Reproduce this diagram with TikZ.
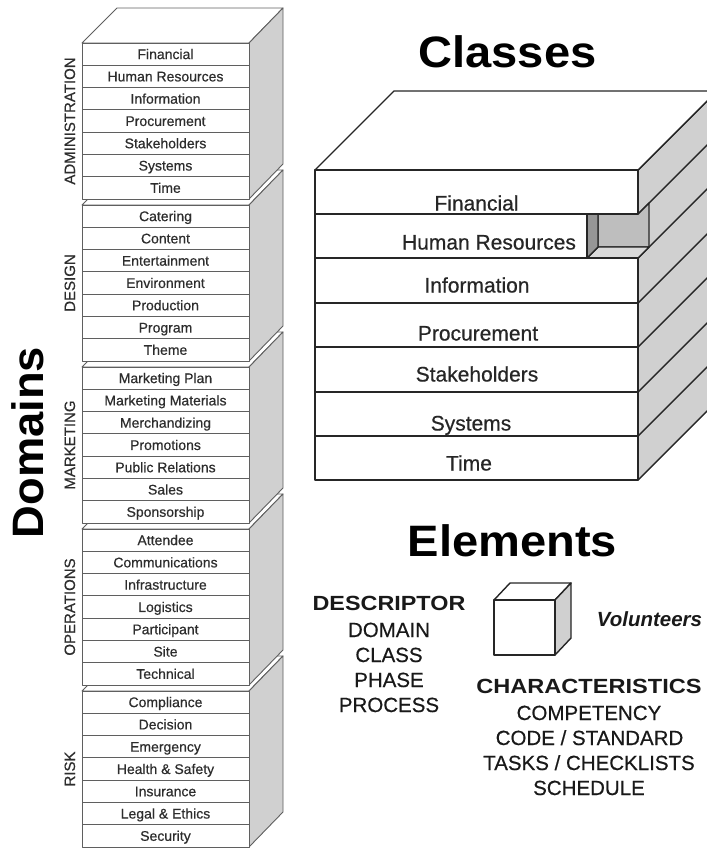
\documentclass[tikz,border=0pt]{standalone}
\usepackage{fontspec}
\setmainfont{Liberation Sans}
\newfontfamily\medfont{Liberation Sans}[FakeBold=0.5,BoldFeatures={FakeBold=0},ItalicFeatures={FakeBold=0}]
\usepackage{graphicx}
\definecolor{sidegray}{RGB}{208,208,208}
\definecolor{linegray}{RGB}{95,95,95}
\definecolor{wallgray}{RGB}{190,190,190}
\definecolor{leftwall}{RGB}{150,150,150}
\definecolor{floorgray}{RGB}{218,218,218}
\definecolor{textgray}{RGB}{45,45,45}
\begin{document}
\begin{tikzpicture}[x=1pt,y=-1pt,
  thinline/.style={draw=linegray,line width=0.9pt,line join=round},
  thickline/.style={draw=black!85,line width=1.4pt,line join=round},
  rowtxt/.style={font=\fontsize{14}{14}\selectfont\medfont,text=textgray,inner sep=0pt,anchor=base},
  sublab/.style={font=\fontsize{15}{15}\selectfont\medfont,text=textgray,inner sep=0pt,anchor=base,rotate=90},
  bigtxt/.style={font=\fontsize{21}{21}\selectfont\medfont,text=black!85,inner sep=0pt,anchor=base},
  eltxt/.style={font=\fontsize{20.5}{20.5}\selectfont\medfont,text=black!90,inner sep=0pt,anchor=base},
  heading/.style={font=\fontsize{44}{44}\selectfont\bfseries,inner sep=0pt,anchor=base}]
\useasboundingbox (0,0) rectangle (707,849);

% ---------------- left stack of domains ----------------
\foreach \i/\lab/\rows in {
  4/RISK/{Compliance,Decision,Emergency,Health \& Safety,Insurance,Legal \& Ethics,Security},
  3/OPERATIONS/{Attendee,Communications,Infrastructure,Logistics,Participant,Site,Technical},
  2/MARKETING/{Marketing Plan,Marketing Materials,Merchandizing,Promotions,Public Relations,Sales,Sponsorship},
  1/DESIGN/{Catering,Content,Entertainment,Environment,Production,Program,Theme},
  0/ADMINISTRATION/{Financial,Human Resources,Information,Procurement,Stakeholders,Systems,Time}} {
  \pgfmathsetmacro\T{43+162*\i}
  \pgfmathsetmacro\B{\T+156}
  \pgfmathsetmacro\Tb{\T-35}
  \pgfmathsetmacro\Bb{\B-35}
  \draw[thinline,fill=white] (82,\T) -- (117,\Tb) -- (283,\Tb) -- (249,\T) -- cycle;
  \draw[thinline,fill=sidegray] (249,\T) -- (283,\Tb) -- (283,\Bb) -- (249,\B) -- cycle;
  \draw[thinline,fill=white] (82,\T) rectangle (249,\B);
  \foreach \r [count=\j from 0] in \rows {
    \pgfmathsetmacro\yy{\T+22.286*\j}
    \ifnum\j>0 \draw[thinline] (82,\yy) -- (249,\yy); \fi
    \node[rowtxt] (row-\i-\j) at (165.5,\yy+16.1) {\r};
  }
  \node[sublab] (dom-\i) at (75,\T+78) {\lab};
}
\node[heading,rotate=90] (domains) at (43,442.5) {\scalebox{1.03}[1]{Domains}};

% ---------------- Classes cube ----------------
\node[heading] (classes) at (507.5,67) {\scalebox{1.07}[1]{Classes}};
\begin{scope}
  \clip (0,0) rectangle (707,849);
  \draw[thickline,fill=sidegray] (638,170) -- (717,91) -- (717,401) -- (638,480) -- cycle;
  \draw[thickline,fill=white] (315,170) -- (394,91) -- (717,91) -- (638,170) -- cycle;
  \foreach \y in {214,258,303,347,392,436} \draw[thickline] (638,\y) -- (717,\y-79);
\end{scope}
% recessed cell
\draw[thickline,fill=wallgray] (598,214) -- (638,214) -- (649,203) -- (649,247) -- (598,247) -- cycle;
\draw[thickline,fill=floorgray] (587,258) -- (638,258) -- (649,247) -- (598,247) -- cycle;
\draw[thickline,fill=leftwall] (587,214) -- (598,214) -- (598,247) -- (587,258) -- cycle;
% front rows
\draw[thickline,fill=white] (315,170) rectangle (638,214);
\draw[thickline,fill=white] (315,214) rectangle (587,258);
\draw[thickline,fill=white] (315,258) rectangle (638,303);
\draw[thickline,fill=white] (315,303) rectangle (638,347);
\draw[thickline,fill=white] (315,347) rectangle (638,392);
\draw[thickline,fill=white] (315,392) rectangle (638,436);
\draw[thickline,fill=white] (315,436) rectangle (638,480);
\node[bigtxt] (c-fin) at (476.5,210.5) {Financial};
\node[bigtxt] (c-hr)  at (489,249.5) {Human Resources};
\node[bigtxt] (c-inf) at (477,292.5) {Information};
\node[bigtxt] (c-pro) at (478,340.5) {Procurement};
\node[bigtxt] (c-sta) at (477,381.5) {Stakeholders};
\node[bigtxt] (c-sys) at (471,430.5) {Systems};
\node[bigtxt] (c-tim) at (469,470.5) {Time};

% ---------------- Elements ----------------
\node[heading] (elements) at (512.5,556) {\scalebox{1.07}[1]{Elements}};
\node[eltxt] (desc) at (389,610) {\scalebox{1.14}[1]{\normalfont\bfseries DESCRIPTOR}};
\node[eltxt] (d1) at (389,637) {DOMAIN};
\node[eltxt] (d2) at (389,662) {CLASS};
\node[eltxt] (d3) at (389,687) {PHASE};
\node[eltxt] (d4) at (389,712) {PROCESS};
% small cube
\draw[thickline,fill=white] (494,600) -- (510,583) -- (571,583) -- (555,600) -- cycle;
\draw[thickline,fill=sidegray] (555,600) -- (571,583) -- (571,638) -- (555,655) -- cycle;
\draw[thickline,fill=white] (494,600) rectangle (555,655);
\node[eltxt] (vol) at (649.5,626) {\normalfont\bfseries\itshape Volunteers};
\node[eltxt] (char) at (589,693) {\scalebox{1.15}[1]{\normalfont\bfseries CHARACTERISTICS}};
\node[eltxt] (ch1) at (589,720) {COMPETENCY};
\node[eltxt] (ch2) at (589.5,745) {CODE / STANDARD};
\node[eltxt] (ch3) at (589,770) {TASKS / CHECKLISTS};
\node[eltxt] (ch4) at (589,795) {SCHEDULE};
\end{tikzpicture}
\end{document}
